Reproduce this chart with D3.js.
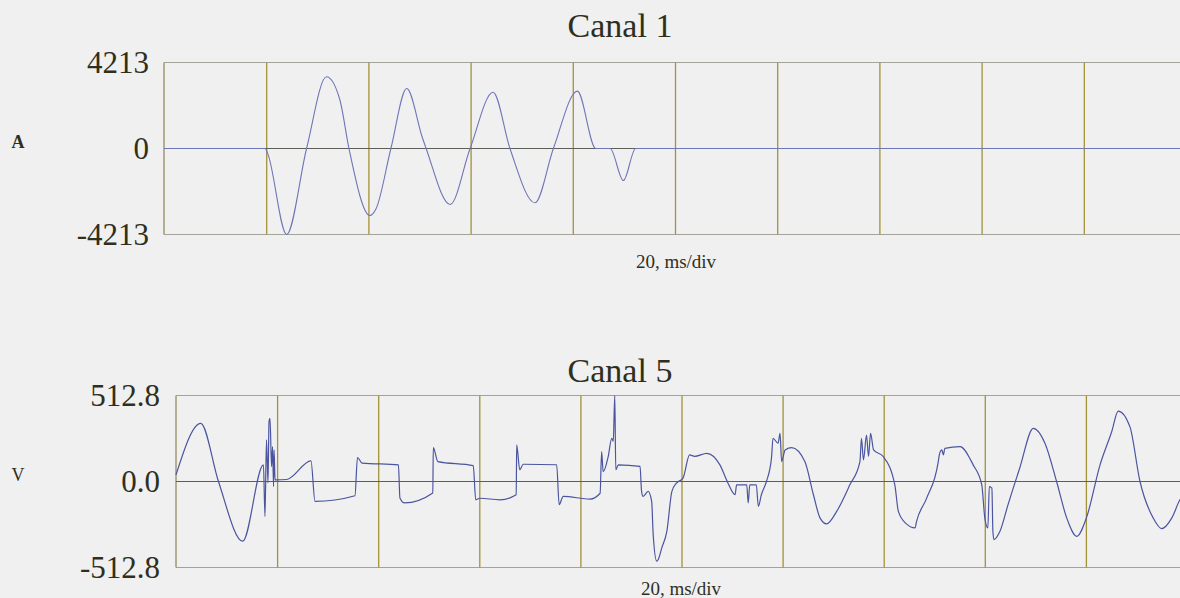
<!DOCTYPE html>
<html>
<head>
<meta charset="utf-8">
<script src="https://cdn.jsdelivr.net/npm/d3@7"></script>
<style>
  html, body { margin: 0; padding: 0; background: #f0f0f1; overflow: hidden; }
  svg { display: block; font-family: "Liberation Serif", "Times New Roman", serif; }
</style>
</head>
<body>
<div id="wrapper"></div>
<script>
// time base: 10 divisions of 20 ms
const divTicks = [20, 40, 60, 80, 100, 120, 140, 160, 180];
const timeDomain = [0, 200];

// Canal 1 (A): [ms, value]
const ch1Max = 4213;
const ch1Labels = ["-4213", "0", "4213"];
const ch1Points = [
  [0, 0], [19.8, 0], [20.3, -250], [24.0, -4213], [27.9, 0], [31.8, 3512],
  [34.4, 2400], [36.2, 0], [40.3, -3282], [41.5, -2950], [44.4, 0], [47.5, 2939],
  [50.6, 500], [51.3, 0], [56.0, -2743], [59.9, 0], [64.4, 2758], [67.7, 0],
  [72.6, -2660], [76.2, 0], [80.9, 2810], [84.5, 0], [87.3, 0], [89.9, -1568],
  [92.3, 0], [200, 0]
];

// Canal 5 (V): [ms, value]
const ch5Max = 512.8;
const ch5Labels = ["-512.8", "0.0", "512.8"];
const ch5Points = [
  [0, 40], [4.9, 347], [8.4, 0], [13.2, -356], [17.3, 99], [17.6, -208],
  [17.9, 248], [18.2, -8], [18.4, 356], [18.6, 377], [18.9, 89], [19.1, 208],
  [19.3, -30], [19.4, 188], [19.6, 10], [19.9, 10], [21.9, 12], [26.7, 123],
  [27.5, -119], [35.4, -85], [35.9, 143], [36.8, 110], [44.0, 99], [44.3, -99],
  [45.2, -128], [50.8, -69], [50.9, 202], [51.8, 119], [58.8, 95], [59.3, -109],
  [60.1, -100], [64.1, -109], [67.3, -79], [67.4, 218], [68.0, 70], [68.7, 103],
  [75.3, 100], [75.8, -138], [76.6, -89], [81.9, -105], [83.9, -70], [84.2, 178],
  [84.5, 59], [85.5, 149], [86.2, 258], [86.5, 240], [86.8, 512], [87.0, 70],
  [87.5, 99], [91.8, 90], [92.1, -59], [92.4, -89], [93.4, -59], [94.1, -119],
  [94.4, -317], [95.1, -475], [95.4, -465], [96.1, -396], [97.1, -297], [98.1, -59],
  [99.0, -10], [100.3, 20], [101.6, 159], [102.6, 150], [105.0, 168], [107.6, 99],
  [109.2, -10], [110.6, -79], [110.9, -20], [112.9, -20], [113.2, -128], [113.5, -20],
  [114.8, -20], [115.2, -148], [115.8, -79], [116.8, 0], [117.8, 139], [118.1, 258],
  [119.1, 228], [119.5, 287], [119.8, 119], [120.5, 188], [121.8, 202], [124.4, 119],
  [126.1, -79], [127.4, -217], [128.7, -253], [130.7, -178], [133.3, -20], [135.3, 119],
  [135.6, 257], [136.0, 129], [136.6, 277], [137.0, 149], [137.4, 287], [138.0, 188],
  [139.9, 149], [142.2, -20], [142.9, -178], [144.5, -253], [146.2, -277], [146.5, -238],
  [148.5, -99], [150.8, 119], [151.0, 159], [151.5, 188], [151.8, 159], [152.1, 198],
  [155.1, 208], [157.7, 99], [159.4, -20], [160.0, -217], [160.6, -277], [160.9, -30],
  [161.4, -40], [161.6, -297], [161.8, -346], [163.0, -297], [164.6, -138], [166.9, 79],
  [169.6, 317], [171.9, 228], [174.2, 0], [176.2, -217], [178.2, -327], [180.1, -217],
  [182.8, 99], [185.1, 297], [186.4, 420], [188.7, 327], [190.7, 0], [193.3, -217],
  [195.0, -281], [197.0, -217], [198.6, -109], [200, -60]
];

const width = 1180;
const height = 598;

const svg = d3.select("#wrapper")
  .append("svg")
  .attr("width", width)
  .attr("height", height);

function drawPanel(opts) {
  const { left, top, w, h, max, labels, points, title, titleY,
          unit, unitY, labelX, divLabelX, divLabelY, traceColor, traceWidth } = opts;

  const xScale = d3.scaleLinear().domain(timeDomain).range([left, left + w]);
  const yScale = d3.scaleLinear().domain([-max, max]).range([top + h, top]);

  // frame
  svg.append("line")
    .attr("x1", left).attr("x2", left + w)
    .attr("y1", top).attr("y2", top)
    .attr("stroke", "#a3a39c").attr("stroke-width", 1.2);
  svg.append("line")
    .attr("x1", left).attr("x2", left + w)
    .attr("y1", top + h).attr("y2", top + h)
    .attr("stroke", "#a3a39c").attr("stroke-width", 1.2);
  svg.append("line")
    .attr("x1", left).attr("x2", left)
    .attr("y1", top).attr("y2", top + h)
    .attr("stroke", "#8c8450").attr("stroke-width", 1.2);

  // division lines
  const grid = svg.append("g")
    .attr("transform", `translate(0, ${top + h})`)
    .call(d3.axisBottom(xScale).tickValues(divTicks).tickSize(-h).tickFormat(""));
  grid.select(".domain").remove();
  grid.selectAll(".tick line")
    .attr("stroke", "#a29238")
    .attr("stroke-width", 1.3);

  // zero line
  svg.append("line")
    .attr("x1", left).attr("x2", left + w)
    .attr("y1", yScale(0)).attr("y2", yScale(0))
    .attr("stroke", "#5c5f58").attr("stroke-width", 1.2);

  // y labels
  const yAxis = svg.append("g")
    .attr("transform", `translate(${labelX}, 0)`)
    .call(d3.axisLeft(yScale)
      .tickValues([-max, 0, max])
      .tickSize(0)
      .tickPadding(0)
      .tickFormat((d, i) => labels[i]));
  yAxis.select(".domain").remove();
  yAxis.selectAll("text")
    .attr("fill", "#2f2f1c")
    .style("font-size", "31px")
    .style("font-family", "'Liberation Serif', serif");

  // trace
  const line = d3.line()
    .x((d) => xScale(d[0]))
    .y((d) => yScale(d[1]))
    .curve(d3.curveMonotoneX);

  svg.append("path")
    .datum(points)
    .attr("d", line)
    .attr("fill", "none")
    .attr("stroke", traceColor)
    .attr("stroke-width", traceWidth)
    .attr("stroke-linejoin", "round");

  // titles
  svg.append("text")
    .attr("x", 620)
    .attr("y", titleY)
    .attr("text-anchor", "middle")
    .attr("fill", "#2f2f1c")
    .style("font-size", "34px")
    .text(title);

  svg.append("text")
    .attr("x", 18)
    .attr("y", unitY)
    .attr("text-anchor", "middle")
    .attr("fill", "#2f2f1c")
    .style("font-size", "18px")
    .style("font-weight", unit === "A" ? "bold" : "normal")
    .text(unit);

  svg.append("text")
    .attr("x", divLabelX)
    .attr("y", divLabelY)
    .attr("text-anchor", "middle")
    .attr("fill", "#2f2f1c")
    .style("font-size", "19px")
    .text("20, ms/div");
}

drawPanel({
  left: 164, top: 62.5, w: 1022, h: 172,
  max: ch1Max, labels: ch1Labels, points: ch1Points,
  title: "Canal 1", titleY: 37, unit: "A", unitY: 148,
  labelX: 149, divLabelX: 676, divLabelY: 268,
  traceColor: "#6e76b6", traceWidth: 1.1
});

drawPanel({
  left: 176, top: 395.5, w: 1011, h: 172,
  max: ch5Max, labels: ch5Labels, points: ch5Points,
  title: "Canal 5", titleY: 382, unit: "V", unitY: 481,
  labelX: 160, divLabelX: 681, divLabelY: 595,
  traceColor: "#4b559f", traceWidth: 1.2
});
</script>
</body>
</html>
